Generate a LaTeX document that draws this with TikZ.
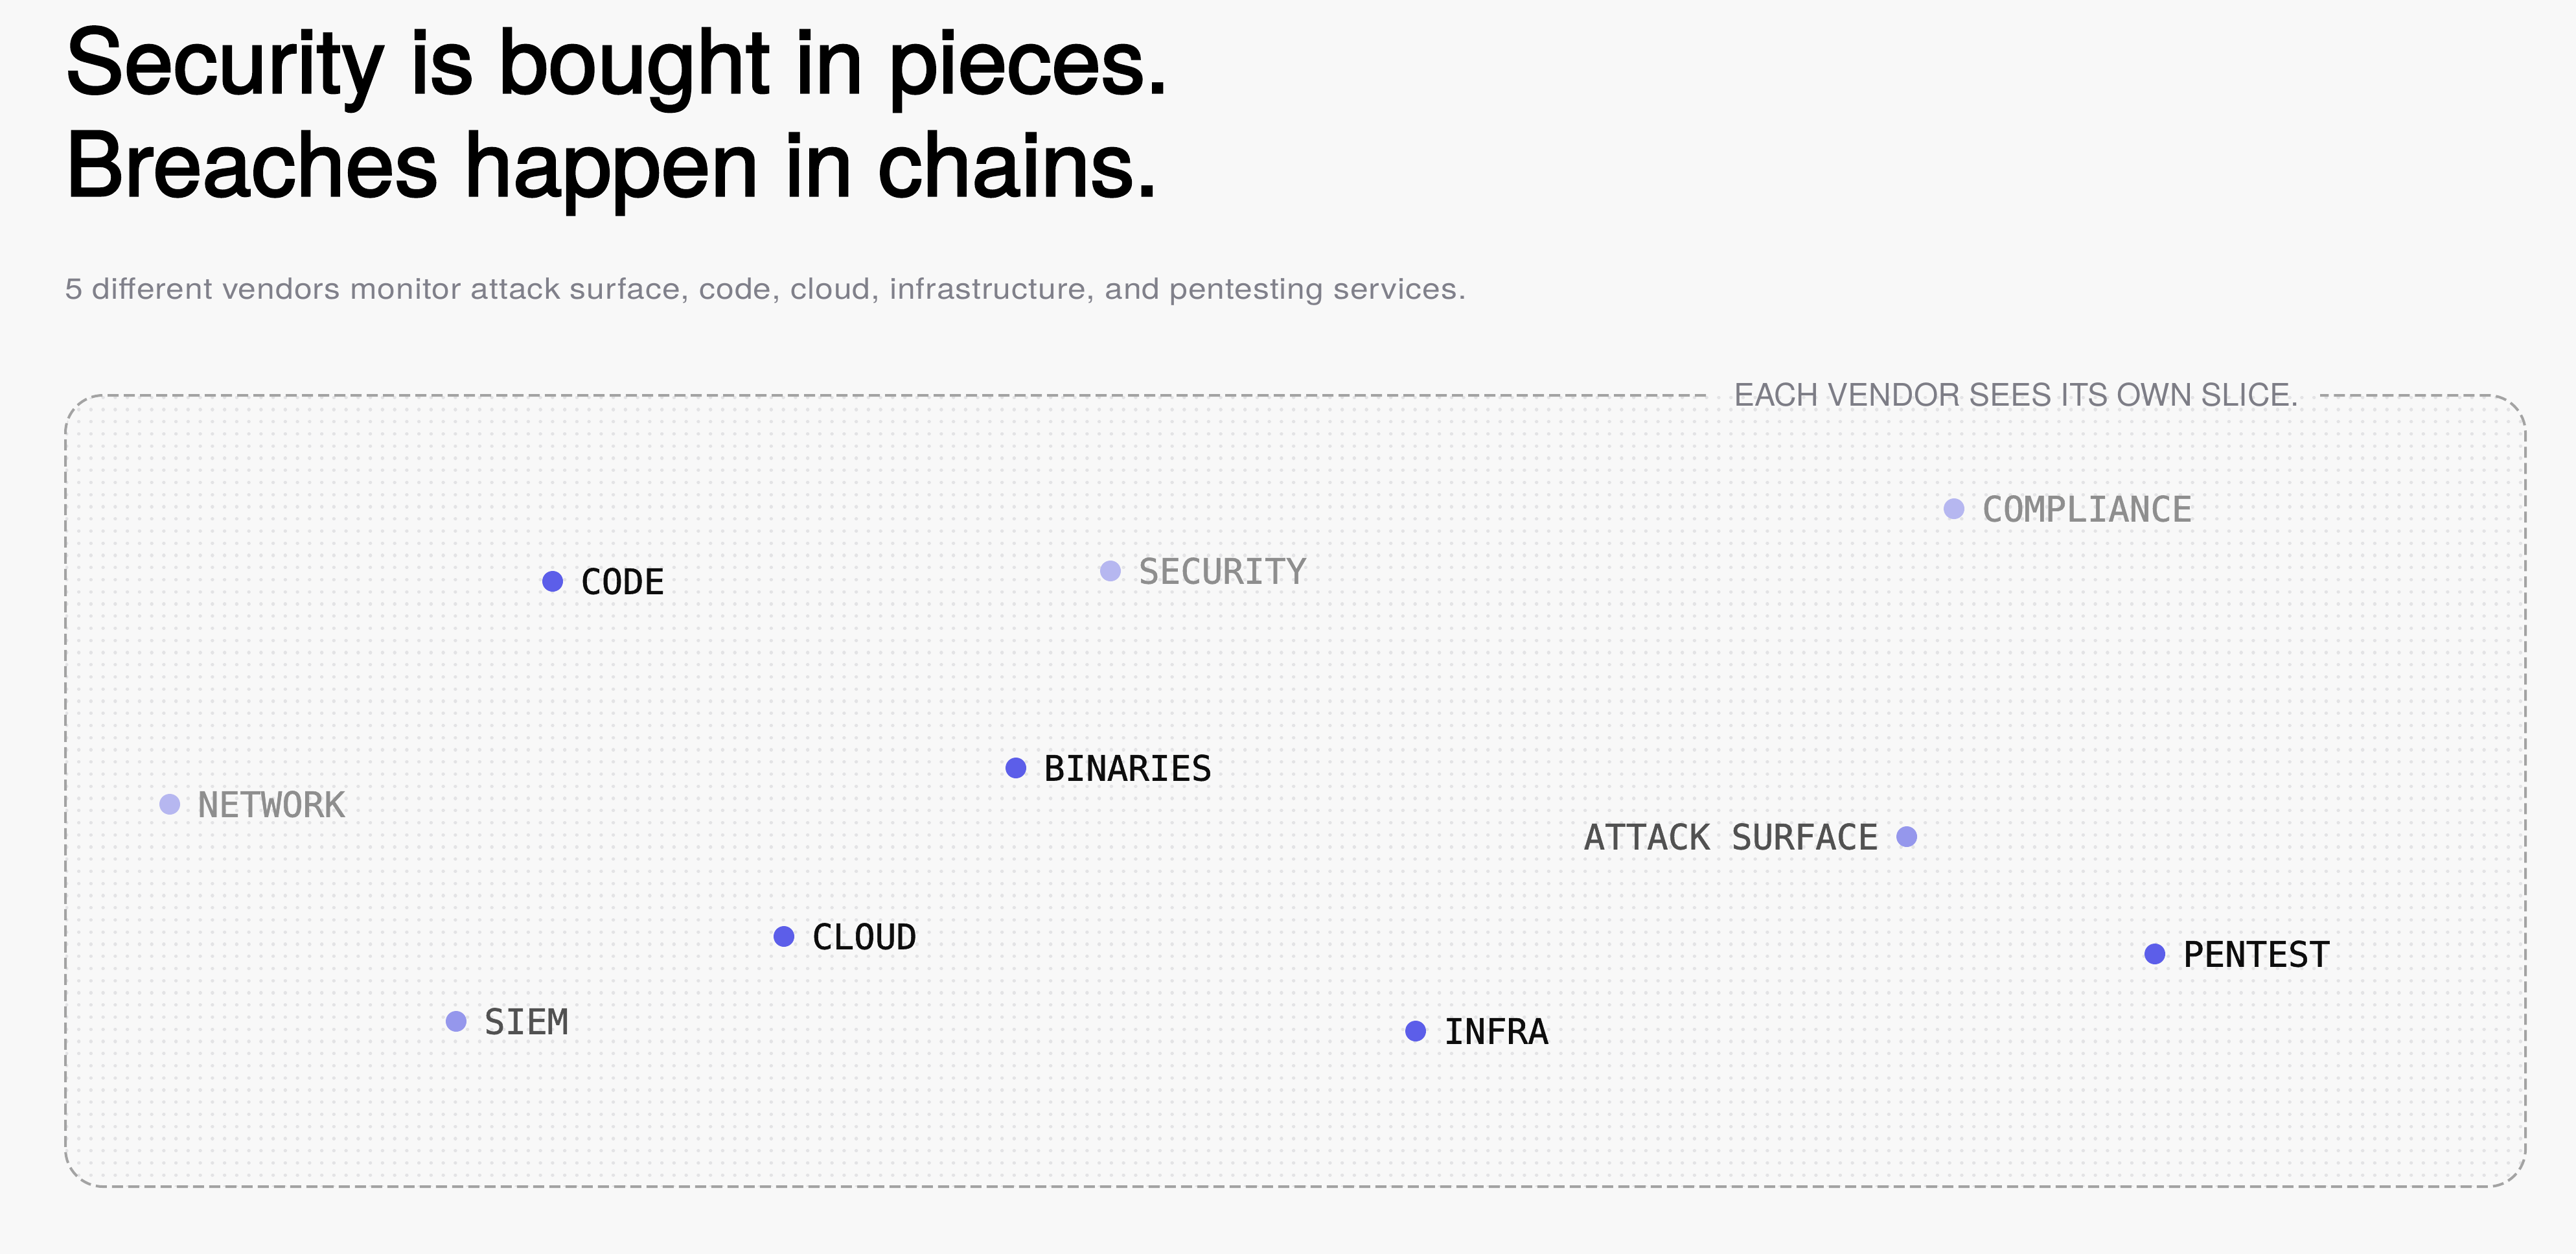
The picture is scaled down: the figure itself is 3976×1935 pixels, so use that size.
\documentclass[tikz,border=0pt]{standalone}
\usepackage{fontspec}
\setmainfont{TeX Gyre Heros}
\newfontfamily\monof[FakeBold=1]{DejaVu Sans Mono}
\newfontfamily\titlef[FakeBold=2.2]{TeX Gyre Heros}
\newfontfamily\subf[LetterSpace=2]{TeX Gyre Heros}
\definecolor{bg}{HTML}{F8F8F8}
\definecolor{griddotc}{HTML}{E3E3E5}
\definecolor{borderc}{HTML}{A3A3A3}
\definecolor{subc}{HTML}{80808A}
\definecolor{boxlblc}{HTML}{7D7D86}
\definecolor{dotdark}{HTML}{5C5EE9}
\definecolor{dotmid}{HTML}{9597EC}
\definecolor{dotlight}{HTML}{B6B7F0}
\definecolor{txtdark}{HTML}{0D0D0D}
\definecolor{txtmid}{HTML}{515151}
\definecolor{txtlight}{HTML}{8E8E8E}
\begin{document}
\begin{tikzpicture}[x=1pt,y=-1pt,
  vdot/.style={circle, inner sep=0pt, minimum size=32pt},
  vdark/.style={vdot, fill=dotdark},
  vmid/.style={vdot, fill=dotmid},
  vlight/.style={vdot, fill=dotlight},
  lblbase/.style={font=\monof\fontsize{54}{60}\selectfont, inner sep=0pt},
  lblR/.style={lblbase, anchor=base west, xshift=43pt, yshift=-19.5pt},
  lblL/.style={lblbase, anchor=base east, xshift=-43pt, yshift=-19.5pt},
  titlestyle/.style={anchor=base west, inner sep=0pt, font=\titlef\fontsize{137}{160}\selectfont, text=black},
  griddot/.style={griddotc, line width=5.4pt, line cap=round, dash pattern=on 0.05pt off 18.7pt},
  border/.style={borderc, line width=4pt, dash pattern=on 17pt off 8pt, rounded corners=58pt},
]
\fill[bg] (0,0) rectangle (3976,1935);
\useasboundingbox (0,0) rectangle (3976,1935);

% titles
\node[titlestyle] (title1) at (100,143) {Security is bought in pieces.};
\node[titlestyle] (title2) at (100,302) {Breaches happen in chains.};
\node[anchor=base west, inner sep=0pt, text=subc] (subtitle) at (100,461)
  {\resizebox{2164pt}{\height}{\subf\fontsize{45}{52}\selectfont 5 different vendors monitor attack surface, code, cloud, infrastructure, and pentesting services.}};

% dot grid
\begin{scope}
\clip[rounded corners=58pt] (101,610) rectangle (3898,1831);
\foreach \j in {0,...,65}
  \draw[griddot] ({102.85},{613.2+18.75*\j}) -- ({3905},{613.2+18.75*\j});
\end{scope}

% dashed border with gap for label
\draw[border] (2633,610) -- (101,610) -- (101,1831) -- (3898,1831) -- (3898,610) -- (3581,610);
\node[anchor=base west, inner sep=0pt, font=\fontsize{48}{55}\selectfont, text=boxlblc] (boxlabel) at (2676,626) {EACH VENDOR SEES ITS OWN SLICE.};

% vendors
\node[vdark] (code) at (853,897) {};
\node[lblR, text=txtdark] (codel) at (code.center) {CODE};
\node[vlight] (security) at (1714,881) {};
\node[lblR, text=txtlight] (securityl) at (security.center) {SECURITY};
\node[vlight] (compliance) at (3016,785) {};
\node[lblR, text=txtlight] (compliancel) at (compliance.center) {COMPLIANCE};
\node[vlight] (network) at (262,1241) {};
\node[lblR, text=txtlight] (networkl) at (network.center) {NETWORK};
\node[vdark] (binaries) at (1568,1185) {};
\node[lblR, text=txtdark] (binariesl) at (binaries.center) {BINARIES};
\node[vmid] (attack) at (2943,1291) {};
\node[lblL, text=txtmid] (attackl) at (attack.center) {ATTACK SURFACE};
\node[vdark] (cloud) at (1210,1445) {};
\node[lblR, text=txtdark] (cloudl) at (cloud.center) {CLOUD};
\node[vdark] (pentest) at (3326,1472) {};
\node[lblR, text=txtdark] (pentestl) at (pentest.center) {PENTEST};
\node[vmid] (siem) at (704,1576) {};
\node[lblR, text=txtmid] (sieml) at (siem.center) {SIEM};
\node[vdark] (infra) at (2185,1591) {};
\node[lblR, text=txtdark] (infral) at (infra.center) {INFRA};
\end{tikzpicture}
\end{document}
